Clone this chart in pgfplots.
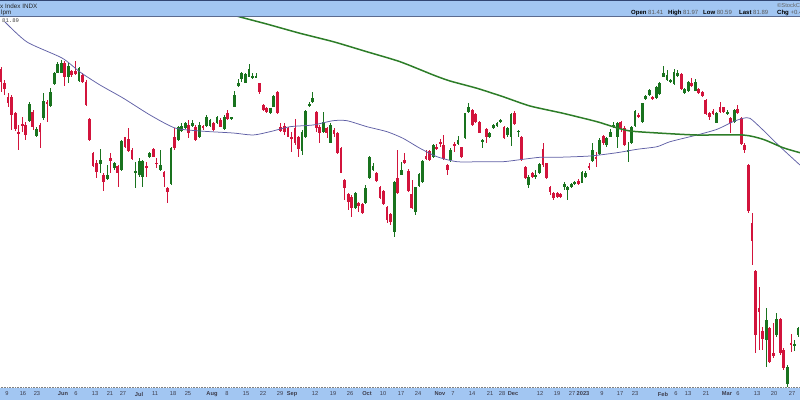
\documentclass[border=0pt]{standalone}
\usepackage{fontspec}
\setmainfont{Liberation Sans}
\setmonofont{Liberation Mono}
\usepackage{pgfplots}
\pgfplotsset{compat=1.18}
\usepackage{pgfplotstable}
\definecolor{cup}{RGB}{25,115,30}
\definecolor{cdn}{RGB}{210,20,60}
\definecolor{ma50}{RGB}{95,95,165}
\definecolor{ma200}{RGB}{45,125,40}
\definecolor{hdr}{RGB}{162,198,242}
\definecolor{hdrline}{RGB}{50,70,115}
\definecolor{lbl}{RGB}{60,60,75}

% down candles: i open high low close
\pgfplotstableread{
i o h l c
0 330.7 333.3 308.3 318.3
1 317.3 320 305 310.7
2 303.3 306.7 293.3 296.7
3 302.7 305 270 285
4 287.3 288.3 269.3 270.7
5 268.3 275 250 266
6 276 282.7 268.3 274
7 275 278.3 260 265
9 288.3 290 270 272.7
11 275 276.7 251.7 268.3
13 298.3 300 278.3 296
18 337.3 339.3 314 323.3
20 329.3 330 323.3 325
21 329.3 339.3 325 326
23 325 326.7 316.7 318.3
24 318.3 320 294 295
25 280.7 281.7 259.3 260
26 247.3 248.3 233.3 234
27 237.3 240 221.7 228.3
29 225 226.7 209.3 218.3
31 241.7 246.7 226.7 239.3
33 234 235 213.3 226.7
35 262.7 263.3 251.7 252.7
36 260.7 271.7 248.3 249.3
37 250 251.7 240 240.7
41 234 238.3 223.3 232.7
43 251.3 251.7 242.7 243.3
44 237.3 241.7 231.7 236
46 228 229 213.3 223.3
47 211.7 212.7 197.3 208.3
49 262.7 271.7 250 251.7
53 275 280 261.7 266.7
55 273.3 275 259.3 260
57 274 275 270 271.7
60 277.3 278.3 269.3 270
62 280 281.7 272.7 273.3
64 287.3 290 280 280.7
73 316.7 317.3 306 308.3
74 295 296 289.3 290
75 291.7 293.3 287.3 288.3
78 308.3 309 286 286.7
79 273.3 276.7 268.3 269.3
80 274 276.7 265 268.3
81 271.7 273.3 262.7 263.3
82 263.3 268.3 248.3 261.7
83 271.7 280.7 255 256.7
84 262.7 264 243.3 250.7
89 288.3 289 268.3 271.7
90 273.3 275 256.7 267.3
92 271.7 273.3 261.7 266.7
94 270 271.7 262.7 266
95 266.7 268.3 246 246.7
96 251.7 252.7 226.7 227.3
97 220 220.7 200 211.7
98 206 207.3 190 198.3
99 203.3 205 183.3 191.7
101 197.3 198.3 188.3 194
102 196 197.3 186 187.3
106 227.3 228.3 218.3 219.3
107 213.3 214 200.7 201.7
108 209.3 210 195 196
109 193.3 194 177.3 180
110 186 187.3 175 178.3
112 221.7 250 206 206.7
114 240 246.7 236 236.7
115 229.3 230.7 208.3 209
116 206 220 190.7 191.7
120 244 250 240 241.3
121 249.3 250 239.3 240
123 252.7 256 250 251.3
124 258.3 260.7 253.3 256.7
125 254.7 265 240 240.7
126 235 236 225 230
128 256 258.3 248.3 255
130 252.7 253.3 241.7 242.7
133 290 290.7 274 275
134 286 287.3 277.3 278.3
135 278.3 279.3 266.7 267.3
137 270.7 271.7 256.7 263.3
142 273.3 274 260.7 261.7
145 287.3 289.3 275 276
147 263.3 264 239.3 240
148 233.3 234 220.7 221.7
150 226.7 228.3 221.7 223.3
153 250.7 257.3 233.3 235
154 236.7 237.3 220.7 221.7
155 213.3 214 205 208.3
156 206.7 208.3 200 201.7
157 206.7 207.7 202 203.3
158 206 207 202 203.3
163 219.3 220.7 215 216
166 234 236.7 230 231.7
168 243.3 248.3 233.3 241.7
170 264 265 255 256.7
175 278.3 279.3 268.3 271.7
176 271.7 274 254 255
180 285 286.7 282 283.3
184 303.3 304 300 300.7
192 326 326.7 310 310.7
195 316.7 321.7 313.3 314
197 310.7 311.7 306 306.7
198 308.3 309.3 303.3 304
199 300 300.7 285 286
200 286.7 288.3 280 283.3
201 289.3 290.7 285 286
203 293.3 298.3 287.3 288.3
204 292.7 293.3 286.7 288.3
206 281.7 283.3 267.3 276.7
208 290.7 295 286 286.7
209 281.7 282.7 255 256
210 255 256.7 246.7 250
211 235 236 187 189
212 176.7 186.7 135 159.3
213 129.3 130 46.7 65
214 91.7 113.3 50 88.3
215 69.3 73.3 50 60.7
217 71.7 73.3 36.7 38.3
218 47.3 76.7 41.7 44
220 80.7 81.7 45 46.7
221 50 51.7 30 31.7
223 56.7 66 48.3 55
}\down

% up candles: i open high low close
\pgfplotstableread{
i o h l c
8 279 298.3 278.3 295.7
10 264 273.3 263.3 270.7
12 281.7 306.7 280 299.3
14 294 311.7 293.3 308.3
15 315.7 328.3 315 327.3
16 326.7 338.3 326.7 336
17 327.3 340 326.7 337.3
19 322.7 336.7 316.7 334
22 319.3 333.3 318.3 331.7
28 236 250.7 226.7 240
30 220.7 235 220 225
32 231.7 238.3 230 237.3
34 230 260 229.3 259.3
38 227.3 238.3 211.7 229.3
39 225 241.7 223.3 239.3
40 223.3 240 213.3 239.3
42 242.7 248.3 241.7 246.7
45 230 250 229.3 235
48 216 252.7 215.3 251.7
50 260 274 259.3 272.7
51 269.3 276.7 268.3 274
52 271.7 278.3 270.7 276.7
54 274 280 272.7 277.3
56 263.3 278.3 261.7 274.7
58 274 285 272.7 282.7
59 274 280.7 272.7 280
61 276.7 284 276 282.7
63 270.7 285 270 283.3
65 280.7 283.3 280 282.7
66 293.3 309.3 293.3 305
67 314 320.7 313.3 317.3
68 320.7 328.3 318.3 326.7
69 317.3 326.7 316.7 325.7
70 323.3 336 322.7 330.7
71 321.7 326.7 320.7 324
72 322.7 326.7 321.7 324
76 286.7 292.3 286 291.7
77 293.3 305 292.7 304
85 249.3 270 245 268.3
86 263.3 290 261.7 289.3
87 294 298.3 293.3 296
88 298.3 307.7 297.3 301.7
91 268.3 288.3 267.3 278.3
93 257.3 276.7 256.7 275
100 191.7 208.3 190.7 207.3
103 196.7 215 196 211.7
104 221.7 244 220.7 243.3
105 230 236.7 229.3 234
111 168.3 219.3 163.3 218.3
113 225 238.3 225 230
117 188.3 213.3 185 212.7
118 214 226.7 212.7 226
119 218.3 240 217.3 239.3
122 243.3 256 241.7 255
127 240 251.7 238.3 250
129 256 264 255 260
131 261.7 287.3 260.7 286.7
132 288.3 297.3 287.3 293.3
136 258.3 260.7 251.7 260
138 262.7 268.3 261.7 267.3
139 271.7 276 270.7 275
140 274 278.3 273.3 277.3
141 278.3 280.7 277.3 280
143 265 273.3 263.3 271.7
144 263.3 287.3 254 286
146 268.3 270 262.7 269.3
149 215 225 211.7 223.3
151 222.7 230 220.7 225
152 226.7 237 226 236
159 212.7 218.3 210 216
160 210 214 200 212.7
161 212.7 217.3 211.7 216
162 216 219.3 215 218.3
164 217.3 229.3 216.7 228.3
165 222.7 229.3 221.7 227.3
167 239.3 257.3 238.3 250
169 246 261.7 245 260
171 255 262.7 253.3 261.7
172 263.3 270.7 262.7 268.3
173 272.7 278.3 271.7 275
174 263.3 278.3 251.7 277.3
177 248.3 258.3 238.3 250
178 256.7 274 256 272.7
179 274 290 273.3 289.3
181 278.3 297.3 277.3 296.7
182 300.7 305 300 304
183 305 310.7 304 310
185 301.7 314 300.7 313.3
186 306 318.3 305 316.7
187 323.3 334 322.7 326.7
188 320 330 319.3 325
189 318.3 320.7 317.3 320
190 316 330.7 315 328.3
191 324 330 323.3 326.7
193 306.7 311.7 306 310.7
194 309.3 319.3 308.3 318.3
196 309.3 320.7 308.7 318.3
202 277.3 288.3 276.7 287.3
205 286.7 290 285 288.3
207 278.3 290.7 277.3 290
216 60 91.7 33.3 80
219 65 87.3 63.3 80.7
222 16 35 13 33.3
224 54 60 49.3 56
225 65 73.3 63.3 71.7
}\up

\begin{document}
\begin{tikzpicture}
\begin{axis}[
  set layers,
  scale only axis, width=800pt, height=400pt,
  xmin=-0.282, xmax=225.57, ymin=0, ymax=400,
  axis line style={draw=none}, tick style={draw=none},
  major tick length=0pt, ytick=\empty,
  xtick={1.69,6.21,10.16,17.50,21.17,26.54,30.77,34.44,38.96,43.48,48.56,52.79,59.57,63.81,69.17,73.97,78.77,82.16,88.65,93.73,98.53,103.33,107.85,112.93,117.73,123.94,127.61,132.98,138.06,141.45,144.55,152.17,156.97,161.21,164.31,169.68,174.76,178.99,186.90,190.57,193.96,199.04,204.97,208.07,213.44,218.24,223.32},
  xticklabels={9,16,23,\textbf{Jun},6,13,21,27,\textbf{Jul},11,18,25,\textbf{Aug},8,15,22,29,\textbf{Sep},12,19,26,\textbf{Oct},10,17,24,\textbf{Nov},7,14,21,28,\textbf{Dec},12,19,27,\textbf{2023},9,17,23,\textbf{Feb},6,13,21,\textbf{Mar},6,13,20,27},
  xticklabel shift=-6pt,
  xticklabel style={font=\fontsize{5.7}{6}\selectfont, text=lbl, anchor=center, inner sep=0pt},
]
% footer band (background layer, below tick labels and candles)
\begin{pgfonlayer}{axis background}
\fill[hdr] (axis cs:-1,0) rectangle (axis cs:226,12);
\draw[gray, densely dotted, line width=0.6pt] (axis cs:-1,13) -- (axis cs:226,13);
\end{pgfonlayer}

% wicks
\addplot[draw=none, mark=none, forget plot,
  error bars/.cd, y dir=both, y explicit, error mark=none,
  error bar style={draw=cdn, line width=0.75pt}]
  table[x=i, y expr={(\thisrow{h}+\thisrow{l})/2}, y error expr={(\thisrow{h}-\thisrow{l})/2}] {\down};
\addplot[draw=none, mark=none, forget plot,
  error bars/.cd, y dir=both, y explicit, error mark=none,
  error bar style={draw=cup, line width=0.75pt}]
  table[x=i, y expr={(\thisrow{h}+\thisrow{l})/2}, y error expr={(\thisrow{h}-\thisrow{l})/2}] {\up};
% bodies
\addplot[draw=none, mark=none, forget plot,
  error bars/.cd, y dir=both, y explicit, error mark=none,
  error bar style={draw=cdn, line width=2.8pt}]
  table[x=i, y expr={(\thisrow{o}+\thisrow{c})/2}, y error expr={max(abs(\thisrow{o}-\thisrow{c})/2,0.7)}] {\down};
\addplot[draw=none, mark=none, forget plot,
  error bars/.cd, y dir=both, y explicit, error mark=none,
  error bar style={draw=cup, line width=2.8pt}]
  table[x=i, y expr={(\thisrow{o}+\thisrow{c})/2}, y error expr={max(abs(\thisrow{o}-\thisrow{c})/2,0.7)}] {\up};

% 50-day moving average
\addplot[ma50, line width=0.75pt, smooth, tension=0.4, mark=none] coordinates {
(1.13,378) (7.34,358) (17.22,342) (22.30,328) (27.95,315) (34.44,302) (42.07,285)
(49.12,272) (56.18,269) (65.50,267) (71.15,265) (75.95,268.3) (81.59,273.3)
(88.09,275) (93.73,279.3) (97.68,279.3) (103.33,273.3) (108.98,268.3) (113.49,261.7)
(118.29,251.7) (123.09,243.3) (128.74,238.3) (136.08,238.3) (141.73,238.3)
(147.37,240.7) (152.17,242.7) (156.97,242.7) (166.29,244) (173.91,247.3)
(179.56,250.7) (185.21,253.3) (188.88,258.3) (196.49,265) (202.14,270.7)
(206.66,278.3) (209.49,281.7) (211.46,281.7) (215.13,270) (219.93,253.3) (225.55,235)};
% 200-day moving average
\addplot[ma200, line width=1.5pt, smooth, tension=0.4, mark=none] coordinates {
(62.0,390) (66.54,384) (75.01,376) (84.42,366.7) (93.82,358.3) (103.25,348.3)
(112.65,338.3) (122.05,325) (126.77,319) (134.39,311.7) (141.73,303.3) (149.35,294)
(158.67,286.7) (168.27,278.3) (172.78,273.3) (177.58,269) (186.90,266.7)
(196.49,265) (209.49,265) (215.13,260.7) (220.78,252.3) (225.55,247.3)};
\end{axis}

% header band and texts (pixel = pt, origin lower left)
\begin{scope}[shift={(current axis.south west)}]
  \fill[hdr] (0pt,384pt) rectangle (800pt,400pt);
  \draw[hdrline, line width=1pt] (0pt,399.5pt) -- (800pt,399.5pt);
  \draw[hdrline!80, line width=0.7pt] (0pt,384pt) -- (800pt,384pt);
  \node[anchor=base west, inner sep=0pt, font=\fontsize{6.3}{7}\selectfont, text=black!85]
    at (0pt,391.8pt) {x Index INDX};
  \node[anchor=base west, inner sep=0pt, font=\fontsize{6.3}{7}\selectfont, text=black!85]
    at (1pt,385.2pt) {lpm};
  \node[anchor=base west, inner sep=0pt, font=\fontsize{5.6}{6}\ttfamily, text=black!75]
    at (2pt,377pt) {81.89};
  \node[anchor=base west, inner sep=0pt, font=\fontsize{5.8}{7}\selectfont, text=black!60]
    at (777pt,392.5pt) {\copyright StockCharts.com};
  \begin{scope}[every node/.style={anchor=base west, inner sep=0pt, font=\fontsize{6}{7}\selectfont}]
    \node at (631pt,385.6pt) {\textbf{Open} \textcolor{black!65}{81.41}};
    \node at (668pt,385.6pt) {\textbf{High} \textcolor{black!65}{81.97}};
    \node at (703pt,385.6pt) {\textbf{Low} \textcolor{black!65}{80.59}};
    \node at (739pt,385.6pt) {\textbf{Last} \textcolor{black!65}{81.89}};
    \node at (777pt,385.6pt) {\textbf{Chg} \textcolor{black!65}{+0.48 (+0.59\%)}};
  \end{scope}
\end{scope}
\pgfresetboundingbox
\path (current axis.south west) rectangle (current axis.north east);
\end{tikzpicture}
\end{document}
